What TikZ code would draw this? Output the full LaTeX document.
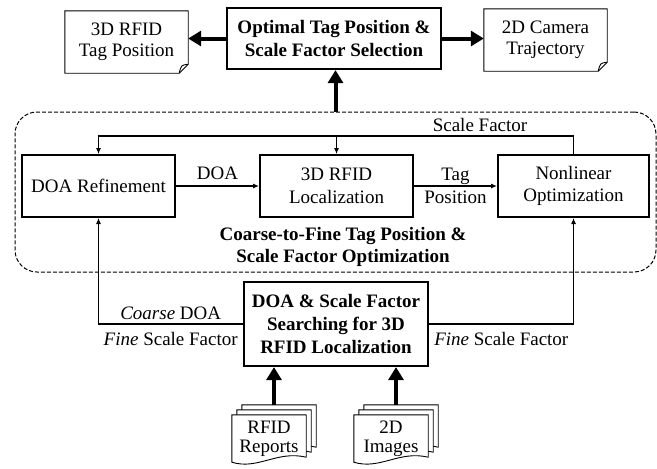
\documentclass[tikz,border=0pt]{standalone}
\usepackage{fontspec}
\setmainfont{Liberation Serif}
\usetikzlibrary{arrows.meta,backgrounds}

\newcommand{\figfont}{\fontsize{19}{22.7}\selectfont}

% folded-corner note around a node
\newcommand{\notepage}[1]{%
  \draw[docline] (#1.north west) -- (#1.north east) -- ([yshift=9pt]#1.south east)
    -- ([xshift=-9pt]#1.south east) -- (#1.south west) -- cycle;
  \draw[docline] ([xshift=-9pt]#1.south east) .. controls ([shift={(-7,-8)}]#1.south east) .. ([yshift=9pt]#1.south east);}

% one sheet of a document stack, shifted by (dx,dy)
\newcommand{\stackpage}[3]{%
  \draw[docline,fill=white] ([shift={(#2,#3)}]#1.north west) -- ([shift={(#2,#3)}]#1.north east)
    -- ([shift={(#2,#3-6)}]#1.south east)
    .. controls ([shift={(#2-29,#3-13)}]#1.south east) and ([shift={(#2+26,#3+7)}]#1.south west)
    .. ([shift={(#2,#3-1)}]#1.south west) -- cycle;}

\begin{document}
\begin{tikzpicture}[x=1pt,y=-1pt,font=\figfont,
  boldbox/.style={draw,line width=2.2pt,font=\figfont\bfseries,align=center,inner sep=0pt},
  stagebox/.style={draw,line width=2pt,align=center,minimum width=153,minimum height=62,inner sep=0pt},
  note/.style={align=center,minimum width=123,minimum height=62,inner sep=0pt,font=\fontsize{19}{21}\selectfont},
  stack/.style={align=center,minimum width=74,minimum height=48,inner sep=0pt,font=\fontsize{19}{19}\selectfont},
  docline/.style={line width=0.9pt},
  arrow/.style={line width=1.1pt,-{Latex[length=6pt,width=5pt]}},
  bigarrow/.style={line width=4pt,-{Triangle[length=13pt,width=15pt]}},
  groupbox/.style={draw,line width=1pt,dash pattern=on 4pt off 2pt,rounded corners=22,minimum width=641,minimum height=160}]
  \useasboundingbox (0,0) rectangle (657,469);

  % top row
  \node[boldbox,minimum width=214,minimum height=61] (optsel) at (334,38.5) {Optimal Tag Position \&\\Scale Factor Selection};
  \node[note] (tagpos) at (126.5,42) {3D RFID\\Tag Position};
  \node[note] (camtraj) at (545.5,40) {2D Camera\\Trajectory};
  \notepage{tagpos}
  \notepage{camtraj}

  % coarse-to-fine stage
  \node[groupbox] (cf) at (335.5,192) {};
  \node[stagebox] (doaref) at (98.5,186) {DOA Refinement};
  \node[stagebox] (loc3d) at (336.5,186) {3D RFID\\Localization};
  \node[stagebox,minimum width=151] (nonlin) at (573.5,186) {Nonlinear\\Optimization};
  \node[font=\figfont\bfseries,align=center] (cflabel) at (343,247) {Coarse-to-Fine Tag Position \&\\Scale Factor Optimization};
  \node (sflabel) at (480,125) {Scale Factor};
  \coordinate (sfjoin) at (336.5,136);

  % searching
  \node[boldbox,minimum width=184,minimum height=84] (search) at (336,324) {DOA \& Scale Factor\\Searching for 3D\\RFID Localization};
  \node[stack] (reports) at (269,439) {RFID\\Reports};
  \node[stack] (images) at (391,439) {2D\\Images};
  \begin{scope}[on background layer]
    \foreach \s in {10,5,0} {
      \stackpage{reports}{\s}{-\s}
      \stackpage{images}{\s}{-\s}
    }
  \end{scope}

  % thick arrows
  \draw[bigarrow] (cf.north) -- (cf.north |- optsel.south);
  \draw[bigarrow] (optsel.west) -- (optsel.west -| tagpos.east);
  \draw[bigarrow] (optsel.east) -- (optsel.east -| camtraj.west);
  \draw[bigarrow] ([shift={(5,-10)}]reports.north) -- ([xshift=5pt]reports.north |- search.south);
  \draw[bigarrow] ([shift={(5,-10)}]images.north) -- ([xshift=5pt]images.north |- search.south);

  % thin connectors
  \draw[arrow] (doaref.east) -- node[above=2pt] (doalbl) {DOA} (loc3d.west);
  \draw[arrow] (loc3d.east) -- node[align=center] (taglbl) {Tag\\Position} (nonlin.west);
  \draw[arrow] (nonlin.north) |- (sfjoin) -| (doaref.north);
  \draw[arrow] (sfjoin) -- (loc3d.north);
  \draw[arrow] (search.west) -| node[pos=0.25,above] (coarselbl) {\textit{Coarse} DOA}
    node[pos=0.25,below=4pt] (finelbl) {\textit{Fine} Scale Factor} (doaref.south);
  \draw[arrow] (search.east) -| node[pos=0.25,below=4pt] (finelbr) {\textit{Fine} Scale Factor} (nonlin.south);
\end{tikzpicture}
\end{document}
